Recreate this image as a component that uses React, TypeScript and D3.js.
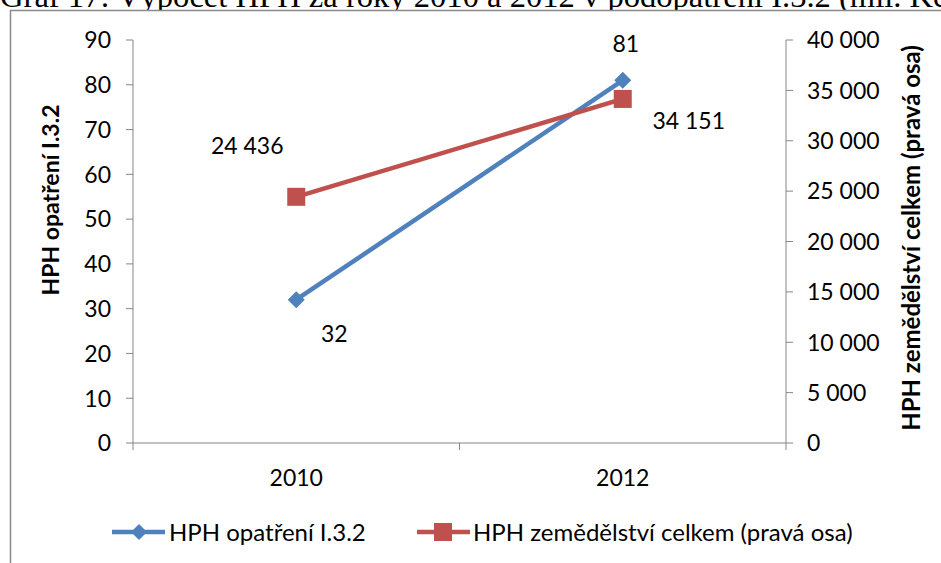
import React from "react";
import * as d3 from "d3";

const categories = ["2010", "2012"];
const seriesMeasure = [32, 81];
const seriesAgri = [24436, 34151];
const leftTicks = [0, 10, 20, 30, 40, 50, 60, 70, 80, 90];
const rightTicks = [0, 5000, 10000, 15000, 20000, 25000, 30000, 35000, 40000];
const seriesNames = ["HPH opatření I.3.2", "HPH zemědělství celkem (pravá osa)"];
const leftTitle = "HPH opatření I.3.2";
const rightTitle = "HPH zemědělství celkem (pravá osa)";
const pageTitle = "Graf 17: Výpočet HPH za roky 2010 a 2012 v podopatření I.3.2 (mil. Kč)";

const W = 941;
const H = 563;
const BLUE = "#4F81BD";
const RED = "#C0504D";
const AXIS = "#868686";
const FONT = "Lato, 'Open Sans', sans-serif";
const FS = 23;

const fmt = d3.formatLocale({ decimal: ",", thousands: " ", grouping: [3], currency: ["", ""] }).format(",");

export default function App() {
  const x = d3.scaleBand<string>().domain(categories).range([133, 786]).paddingInner(0).paddingOuter(0);
  const yL = d3.scaleLinear().domain([0, 90]).range([443, 40]);
  const yR = d3.scaleLinear().domain([0, 40000]).range([443, 40]);
  const cx = (c: string) => (x(c) as number) + x.bandwidth() / 2;

  const lineL = d3.line<number>().x((_, i) => cx(categories[i])).y((d) => yL(d));
  const lineR = d3.line<number>().x((_, i) => cx(categories[i])).y((d) => yR(d));

  const diamond = (px: number, py: number, r: number) =>
    `M${px},${py - r}L${px + r},${py}L${px},${py + r}L${px - r},${py}Z`;

  // label placements (dx, dy from point)
  const labOffL = [[38, 34], [3, -37]];
  const labOffR = [[-49, -51], [66, 22]];

  const boundaries = [0, 1, 2].map((i) => 133 + i * x.bandwidth());

  return (
    <svg width={W} height={H} style={{ position: "absolute", left: 0, top: 0, background: "#fff" }}>
      <text x={0} y={7} fontFamily="'Liberation Serif', 'Times New Roman', serif" fontSize={32.6} fill="#000">
        {pageTitle}
      </text>
      <rect x={0} y={10} width={W} height={H} fill="#fff" />
      <line x1={10} x2={W} y1={10.5} y2={10.5} stroke="#8a8a8a" strokeWidth={1.5} />
      <line x1={10.5} x2={10.5} y1={10} y2={H} stroke="#8a8a8a" strokeWidth={1.5} />

      {/* left axis */}
      <line x1={133} x2={133} y1={40} y2={443} stroke={AXIS} strokeWidth={1} />
      {leftTicks.map((t) => (
        <g key={"l" + t}>
          <line x1={126} x2={133} y1={yL(t)} y2={yL(t)} stroke={AXIS} />
          <text x={111} y={yL(t)} dy="0.36em" textAnchor="end" fontFamily={FONT} fontSize={FS} fill="#000">
            {t}
          </text>
        </g>
      ))}
      {/* right axis */}
      <line x1={786} x2={786} y1={40} y2={443} stroke={AXIS} strokeWidth={1} />
      {rightTicks.map((t) => (
        <g key={"r" + t}>
          <line x1={786} x2={793} y1={yR(t)} y2={yR(t)} stroke={AXIS} />
          <text x={807} y={yR(t)} dy="0.36em" textAnchor="start" fontFamily={FONT} fontSize={FS} fill="#000">
            {fmt(t)}
          </text>
        </g>
      ))}
      {/* x axis */}
      <line x1={133} x2={786} y1={443} y2={443} stroke={AXIS} />
      {boundaries.map((b, i) => (
        <line key={"b" + i} x1={b} x2={b} y1={443} y2={450} stroke={AXIS} />
      ))}
      {categories.map((c) => (
        <text key={c} x={cx(c)} y={478} dy="0.36em" textAnchor="middle" fontFamily={FONT} fontSize={FS} fill="#000">
          {c}
        </text>
      ))}

      {/* axis titles */}
      <text transform={`translate(51,${200}) rotate(-90)`} dy="0.36em" textAnchor="middle" fontFamily={FONT} fontWeight="bold" fontSize={23} fill="#000">
        {leftTitle}
      </text>
      <text transform={`translate(911,${238}) rotate(-90)`} dy="0.36em" textAnchor="middle" fontFamily={FONT} fontWeight="bold" fontSize={24} fill="#000">
        {rightTitle}
      </text>

      {/* series */}
      <path d={lineL(seriesMeasure) as string} fill="none" stroke={BLUE} strokeWidth={4.5} />
      {seriesMeasure.map((v, i) => (
        <path key={"dm" + i} d={diamond(cx(categories[i]), yL(v), 8.5)} fill={BLUE} />
      ))}
      <path d={lineR(seriesAgri) as string} fill="none" stroke={RED} strokeWidth={4.5} />
      {seriesAgri.map((v, i) => (
        <rect key={"sq" + i} x={cx(categories[i]) - 9} y={yR(v) - 9} width={18} height={18} fill={RED} />
      ))}

      {/* data labels */}
      {seriesMeasure.map((v, i) => (
        <text key={"lm" + i} x={cx(categories[i]) + labOffL[i][0]} y={yL(v) + labOffL[i][1]} dy="0.36em" textAnchor="middle" fontFamily={FONT} fontSize={FS} fill="#000">
          {fmt(v)}
        </text>
      ))}
      {seriesAgri.map((v, i) => (
        <text key={"la" + i} x={cx(categories[i]) + labOffR[i][0]} y={yR(v) + labOffR[i][1]} dy="0.36em" textAnchor="middle" fontFamily={FONT} fontSize={FS} fill="#000">
          {fmt(v)}
        </text>
      ))}

      {/* legend */}
      <line x1={112} x2={165} y1={532} y2={532} stroke={BLUE} strokeWidth={4.5} />
      <path d={diamond(139, 532, 8)} fill={BLUE} />
      <text x={169} y={532} dy="0.36em" fontFamily={FONT} fontSize={24} fill="#000">
        {seriesNames[0]}
      </text>
      <line x1={417} x2={470} y1={532} y2={532} stroke={RED} strokeWidth={4.5} />
      <rect x={434} y={523} width={18} height={18} fill={RED} />
      <text x={473} y={532} dy="0.36em" fontFamily={FONT} fontSize={24} fill="#000">
        {seriesNames[1]}
      </text>
    </svg>
  );
}
